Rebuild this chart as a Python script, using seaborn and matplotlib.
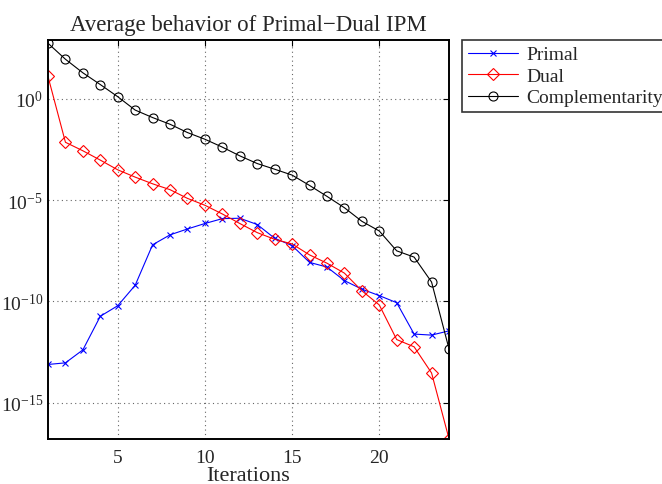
import numpy as np
import pandas as pd
import matplotlib
matplotlib.use('Agg')
import matplotlib.pyplot as plt
import seaborn as sns
from matplotlib.ticker import FixedLocator, LogFormatterMathtext, NullLocator

# ========== DADOS (log10 dos residuos) ==========
iteracoes = list(range(1, 25))

log_primal = [-13.12, -13.04, -12.40, -10.74, -10.22, -9.21, -7.21, -6.72,
              -6.43, -6.16, -5.92, -5.90, -6.21, -6.89, -7.25, -8.08,
              -8.31, -8.98, -9.40, -9.72, -10.07, -11.62, -11.67, -11.46]

log_dual = [1.10, -2.15, -2.57, -3.03, -3.51, -3.87, -4.20, -4.49,
            -4.92, -5.26, -5.69, -6.16, -6.61, -6.94, -7.17, -7.71,
            -8.12, -8.61, -9.48, -10.18, -11.89, -12.25, -13.54, -16.79]

log_compl = [2.74, 1.95, 1.28, 0.70, 0.10, -0.56, -0.93, -1.26,
             -1.67, -2.00, -2.39, -2.82, -3.20, -3.48, -3.77, -4.28,
             -4.82, -5.38, -6.05, -6.53, -7.51, -7.82, -9.05, -12.35]

series_names = ['Primal', 'Dual', 'Complementarity']
x_ticks = [5, 10, 15, 20]
y_ticks = [1e-15, 1e-10, 1e-5, 1e0]

# ========== MONTAR DATAFRAME ==========
df = pd.DataFrame({
    'iter': iteracoes * 3,
    'valor': list(10.0 ** np.array(log_primal)) + list(10.0 ** np.array(log_dual))
             + list(10.0 ** np.array(log_compl)),
    'serie': [series_names[0]] * 24 + [series_names[1]] * 24 + [series_names[2]] * 24,
})

# ========== ESTILO ==========
sns.set_style('white')
plt.rcParams['font.family'] = ['Liberation Serif', 'DejaVu Serif']
plt.rcParams['mathtext.fontset'] = 'stix'

fig = plt.figure(figsize=(6.62, 4.85), dpi=100)
ax = fig.add_axes([48 / 662, 1 - 440 / 485, (449 - 48) / 662, (440 - 41) / 485])

estilos = {
    'Primal': dict(color='#0000ff', marker='x', markersize=4, markerfacecolor='none'),
    'Dual': dict(color='#ff0000', marker='D', markersize=6, markerfacecolor='none'),
    'Complementarity': dict(color='black', marker='o', markersize=6.5, markerfacecolor='none'),
}

for nome in series_names:
    sub = df[df['serie'] == nome]
    st = estilos[nome]
    sns.lineplot(data=sub, x='iter', y='valor', ax=ax, label=nome,
                 color=st['color'], marker=st['marker'], markersize=st['markersize'],
                 markerfacecolor=st['markerfacecolor'], markeredgecolor=st['color'],
                 markeredgewidth=0.8, linewidth=0.8, estimator=None)

ax.set_yscale('log')
ax.set_xlim(1, 24)
ax.set_ylim(10 ** -16.8, 10 ** 2.9)

ax.xaxis.set_major_locator(FixedLocator(x_ticks))
ax.yaxis.set_major_locator(FixedLocator(y_ticks))
ax.yaxis.set_major_formatter(LogFormatterMathtext())
ax.yaxis.set_minor_locator(NullLocator())

ax.tick_params(axis='both', which='both', direction='in', top=True, right=True,
               labelsize=14, length=4, width=0.8, color='black')
ax.tick_params(axis='x', pad=7)

ax.grid(True, which='major', linestyle=(0, (1, 3)), color='#666666', linewidth=0.8)

for sp in ax.spines.values():
    sp.set_color('black')
    sp.set_linewidth(1.4)

ax.set_title('Average behavior of Primal\u2212Dual IPM', fontsize=16.5, pad=7)
ax.set_xlabel('Iterations', fontsize=16, labelpad=0)
ax.set_ylabel('')

leg = ax.legend(loc='upper left', bbox_to_anchor=(462 / 662, 1 - 41 / 485),
                bbox_transform=fig.transFigure, borderaxespad=0, fontsize=14,
                frameon=True, fancybox=False, handlelength=2.6, handletextpad=0.4,
                labelspacing=0.2, borderpad=0.3)
leg.get_frame().set_edgecolor('black')
leg.get_frame().set_linewidth(1.2)

plt.savefig('out.png', dpi=100, facecolor='white')
